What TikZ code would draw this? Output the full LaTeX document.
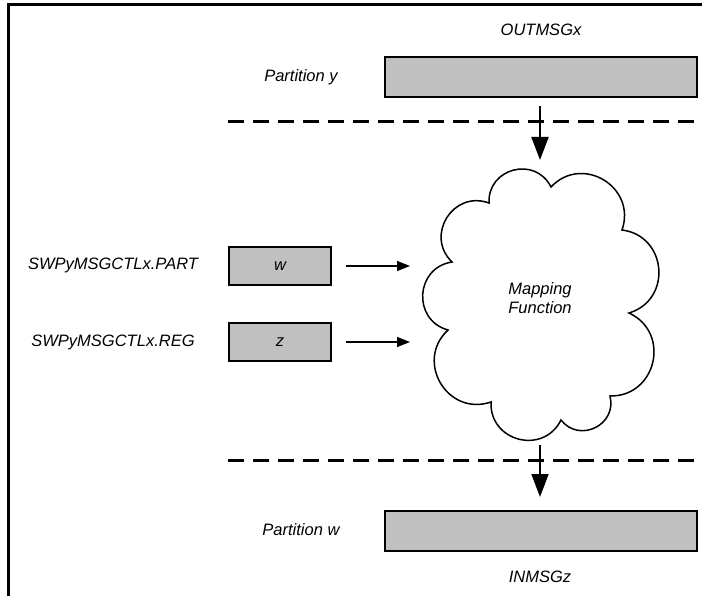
\documentclass[tikz,border=0pt]{standalone}
\usepackage{fontspec}
\setmainfont{Liberation Sans}
\usetikzlibrary{arrows.meta,calc}
\definecolor{barfill}{HTML}{C0C0C0}
\begin{document}
\begin{tikzpicture}[x=1pt,y=-1pt,
  lbl/.style={font=\fontsize{16.5}{19}\selectfont\itshape, inner sep=0pt},
  bar/.style={draw=black, fill=barfill, line width=2pt, inner sep=0pt, minimum width=312pt, minimum height=40pt},
  valbox/.style={draw=black, fill=barfill, line width=1.6pt, inner sep=0pt, minimum width=102pt, minimum height=38pt, font=\fontsize{16.5}{19}\selectfont\itshape},
  sepline/.style={line width=3pt, dash pattern=on 16pt off 9pt},
  frameline/.style={line width=3pt},
  varrow/.style={line width=2pt, -{Triangle[length=23pt,width=17pt]}},
  harrow/.style={line width=1.5pt, -{Triangle[length=13pt,width=10pt]}},
  cloudline/.style={line width=1.5pt, line join=miter}]
\useasboundingbox (0,0) rectangle (702,596);
% frame
\coordinate (fbl) at (8,596);
\coordinate (ftl) at (8,5);
\coordinate (ftr) at (702,5);
\draw[frameline] (fbl) -- (ftl) -- (ftr);
% top
\node[lbl] (outmsg) at (541,30) {OUTMSGx};
\node[bar] (outbar) at (541,77) {};
\node[lbl] (party) at (301,77) {Partition y};
\coordinate (s1l) at (228,122);
\coordinate (s1r) at (702,122);
\draw[sepline] (s1l) -- (s1r);
\coordinate (a1s) at (540,106);
\coordinate (a1e) at (540,160);
\draw[varrow] (a1s) -- (a1e);
% cloud
\coordinate (c1) at (551,187);
\coordinate (c2) at (622,230);
\coordinate (c3) at (629,313);
\coordinate (c4) at (610,396);
\coordinate (c5) at (561,420);
\coordinate (c6) at (491,402);
\coordinate (c7) at (448,330);
\coordinate (c8) at (452,262);
\coordinate (c9) at (489,203);
\draw[cloudline] (c1) \foreach \b in {c2,c3,c4,c5,c6,c7,c8,c9,c1} { to[bend left=78, looseness=1.4] (\b) } -- cycle;
\node[lbl, align=center] (map) at (540,298) {Mapping\\Function};
% inputs
\node[lbl] (lpart) at (113,265) {SWPyMSGCTLx.PART};
\node[lbl] (lreg) at (113,342) {SWPyMSGCTLx.REG};
\node[valbox] (wbox) at (280,266) {w};
\node[valbox] (zbox) at (280,342) {z};
\coordinate (we) at (410,266);
\coordinate (ze) at (410,342);
\draw[harrow] ([xshift=14pt]wbox.east) -- (we);
\draw[harrow] ([xshift=14pt]zbox.east) -- (ze);
% bottom
\coordinate (s2l) at (228,460);
\coordinate (s2r) at (702,460);
\draw[sepline] (s2l) -- (s2r);
\coordinate (a2s) at (540,445);
\coordinate (a2e) at (540,497);
\draw[varrow] (a2s) -- (a2e);
\node[bar] (inbar) at (541,530.5) {};
\node[lbl] (partw) at (301,530) {Partition w};
\node[lbl] (inmsg) at (540,577) {INMSGz};
\end{tikzpicture}
\end{document}
